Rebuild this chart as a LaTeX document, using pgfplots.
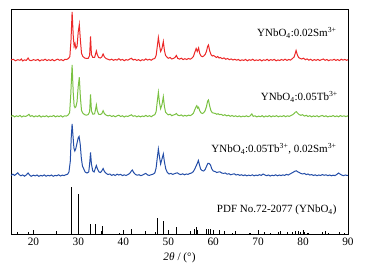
\documentclass[border=0pt]{standalone}
\usepackage{fontspec}
\setmainfont{Liberation Serif}
\usepackage{pgfplots}
\pgfplotsset{compat=1.18}
\definecolor{cred}{RGB}{236,40,40}
\definecolor{cgreen}{RGB}{122,193,66}
\definecolor{cblue}{RGB}{36,78,168}
\begin{document}
\fontsize{11}{13}\selectfont
\begin{tikzpicture}[x=1pt,y=1pt]
\useasboundingbox (0,0) rectangle (365,272);
\begin{axis}[at={(11pt,38pt)}, anchor=south west, width=337pt, height=225pt, scale only axis,
  xmin=15, xmax=90, ymin=0, ymax=225,
  xtick={20,30,...,90}, minor xtick={15,25,...,85}, ytick=\empty,
  tick align=inside, xtick pos=bottom,
  major tick length=4pt, minor tick length=3pt,
  axis line style={line width=0.8pt}, tick style={black, line width=0.6pt},
  /pgf/number format/assume math mode=true,
  tick label style={font=\fontsize{11.3}{13}\selectfont},
  xlabel={\textit{2θ} / (°)},
  xlabel style={at={(axis description cs:0.5,0)}, anchor=center, yshift=-24pt, font=\fontsize{11.3}{13}\selectfont},
  clip=false]
% reference pattern
\addplot[black, ycomb, line width=1.1pt] coordinates {
(16.5,2) (18.8,2) (28.4,47) (30.0,40) (32.7,10) (33.9,10) (35.4,7.5) (39.1,1) (41.8,4.5) (44.9,2) (47.2,1.5) (47.7,16) (48.9,13) (51.9,7) (55.9,5) (56.3,7) (56.6,4) (58.6,5) (59.0,5) (59.3,5) (61.4,3.5) (62.6,2.5) (64.3,1) (68.2,1) (71.4,1.5) (72.8,1) (74.6,1.5) (76.5,1.5) (77.6,2) (78.4,2.5) (78.9,2.5) (79.4,2) (80.3,1.5) (81.1,1) (84.4,2) (85.7,1) (88.2,2) (89.2,1)
};
% Tb + Sm (blue)
\addplot[cblue, line width=1pt] table[y expr=\thisrow{y}+58] {
x y
15 0.5
15.4 1.8
15.8 0.6
16.2 2.0
16.5 3.2
16.8 1.4
17.2 0.2
17.6 1.1
18.0 -0.2
18.4 1.0
18.8 3.0
19.1 1.2
19.5 -0.3
20.0 0.8
20.4 0.1
20.8 1.0
21.2 -0.4
21.6 0.6
22.0 0.0
22.4 1.1
22.8 -0.2
23.2 0.7
23.6 0.1
24.0 1.0
24.4 -0.3
24.8 0.6
25.2 0.2
25.6 1.2
26.0 0.0
26.4 0.9
26.8 0.4
27.2 1.2
27.6 1.8
27.9 4
28.2 15
28.4 38
28.6 52
28.8 40
29.0 28
29.2 25
29.4 27
29.7 33
29.95 38
30.15 39.5
30.4 32
30.65 18
30.9 10
31.2 7
31.5 4
31.9 3
32.3 4
32.5 12
32.7 23.5
32.9 12
33.2 5
33.5 4
33.8 8
34.0 10.5
34.25 7
34.6 4
34.9 3.5
35.2 5
35.5 7.5
35.8 4.5
36.2 2.5
36.6 1.5
37.0 2.0
37.4 0.6
37.8 1.5
38.2 0.5
38.6 1.8
39.0 1.0
39.4 1.6
39.8 0.4
40.2 1.2
40.6 0.5
41.0 1.4
41.4 2.5
41.8 5
42.0 6
42.3 3.5
42.7 1.5
43.1 0.8
43.5 1.3
43.9 0.3
44.3 1.0
44.7 2.0
45.0 2.6
45.4 1.0
45.8 0.6
46.2 1.3
46.6 1.8
47.0 3
47.3 8
47.55 18
47.8 27
48.05 19
48.3 12
48.6 17
48.9 22
49.15 14
49.45 7
49.8 3.5
50.2 2.0
50.6 2.6
51.0 1.6
51.5 2.5
52.0 3.2
52.4 2.0
52.8 1.4
53.2 2.2
53.6 1.2
54.0 2.0
54.4 1.6
54.8 2.5
55.2 3.0
55.6 4.5
56.0 8
56.3 11
56.5 13
56.7 15.5
56.95 11
57.2 7
57.5 5.5
57.9 5
58.2 6.5
58.5 9.5
58.8 12.5
59.1 12.5
59.4 11
59.7 7
60.0 5
60.4 4.5
60.8 3.5
61.2 4.0
61.5 4.2
61.9 3.0
62.3 2.6
62.7 3.0
63.1 1.8
63.5 2.3
63.9 1.2
64.3 1.8
64.7 2.2
65.1 1.0
65.5 1.6
65.9 0.6
66.3 1.3
66.7 0.4
67.1 1.1
67.5 0.2
67.9 0.9
68.3 0.3
68.7 1.2
69.1 0.2
69.5 0.9
69.9 0.4
70.3 1.3
70.7 0.6
71.1 2.0
71.5 1.0
71.9 0.3
72.3 1.0
72.7 0.0
73.1 0.8
73.5 0.3
73.9 1.2
74.3 0.2
74.7 1.0
75.1 0.4
75.5 1.1
75.9 0.6
76.3 1.6
76.7 1.0
77.1 2.0
77.5 3.0
77.9 4.0
78.2 4.8
78.5 5.2
78.8 4.2
79.1 3.6
79.5 2.6
79.9 2.0
80.3 2.6
80.7 1.4
81.1 2.0
81.5 0.9
81.9 1.4
82.3 0.5
82.7 1.2
83.1 0.3
83.5 1.0
83.9 0.5
84.3 1.4
84.7 0.7
85.1 1.2
85.5 0.3
85.9 1.0
86.3 0.2
86.7 0.8
87.1 0.4
87.5 1.5
87.9 3.0
88.2 2.0
88.6 0.9
89.0 0.3
89.4 1.0
89.8 0.5
90 0.7
};
% Tb (green)
\addplot[cgreen, line width=1pt] table[y expr=\thisrow{y}+117.3] {
x y
15 0.4
15.4 1.2
15.8 -0.2
16.2 0.9
16.6 0.1
17.0 1.3
17.4 -0.3
17.8 0.8
18.2 0.2
18.6 1.0
19.0 2.4
19.3 0.3
19.7 1.1
20.1 -0.2
20.5 0.8
20.9 0.1
21.3 1.2
21.7 -0.4
22.1 0.7
22.5 0.0
22.9 1.0
23.3 -0.3
23.7 0.6
24.1 0.2
24.5 1.2
24.9 -0.2
25.3 0.8
25.7 0.1
26.1 1.0
26.5 -0.3
26.9 0.9
27.3 0.6
27.7 1.6
28.05 4
28.3 22
28.6 51.7
28.85 24
29.05 11
29.25 9
29.45 10
29.7 15
29.95 30
30.2 39.4
30.45 19
30.7 6
31.0 3.5
31.4 2.0
31.8 1.5
32.2 2.2
32.5 5
32.7 22.4
32.9 6
33.2 2.5
33.6 2.8
33.85 8
34.0 11.7
34.2 6
34.5 2.5
34.9 2.2
35.2 3
35.5 6
35.8 3
36.2 1.5
36.6 0.8
37.0 1.4
37.4 0.2
37.8 1.0
38.2 -0.1
38.6 0.9
39.0 1.5
39.4 0.2
39.8 0.9
40.2 -0.3
40.6 0.7
41.0 0.2
41.4 1.1
41.8 1.9
42.2 0.4
42.6 1.0
43.0 -0.1
43.4 0.8
43.8 -0.2
44.2 0.7
44.6 0.1
45.0 1.3
45.4 0.2
45.8 1.0
46.2 0.0
46.6 1.2
47.0 2
47.3 5
47.55 15
47.8 24.4
48.05 14
48.3 8
48.6 12
48.9 20
49.15 10
49.4 4.5
49.7 3
50.0 1.8
50.4 2.5
50.8 1.0
51.2 1.8
51.5 2.2
51.8 3.2
52.1 1.6
52.5 1.0
52.9 1.8
53.3 0.5
53.7 1.4
54.1 0.6
54.5 1.6
54.9 1.0
55.3 2.2
55.6 3.5
55.9 7
56.2 10
56.35 11
56.55 8.5
56.75 9.5
57.0 6
57.3 3.8
57.6 3.2
57.9 4
58.2 6
58.5 10
58.75 15.5
58.95 16.7
59.2 11
59.5 6
59.8 4
60.1 3.6
60.5 3.2
60.8 2.4
61.1 3
61.4 2.0
61.8 2.4
62.2 1.2
62.6 2.0
63.0 0.8
63.4 1.5
63.8 0.4
64.2 1.2
64.6 0.2
65.0 0.9
65.4 0.0
65.8 0.8
66.2 -0.2
66.6 0.6
67.0 0.1
67.4 0.9
67.8 0.0
68.2 0.7
68.6 2.8
68.9 0.3
69.3 0.9
69.7 -0.2
70.1 0.6
70.5 0.0
70.9 1.0
71.3 -0.3
71.7 0.7
72.1 0.1
72.5 1.1
72.9 -0.2
73.3 0.8
73.7 0.2
74.1 1.0
74.5 -0.1
74.9 0.7
75.3 0.1
75.7 1.1
76.1 0.0
76.5 0.9
76.9 0.3
77.3 1.2
77.7 2.0
78.0 3.2
78.3 4.6
78.5 5
78.8 3.5
79.1 2.2
79.5 1.4
79.9 2.0
80.3 0.6
80.7 1.4
81.1 0.2
81.5 1.0
81.9 -0.1
82.3 0.8
82.7 0.1
83.1 1.0
83.5 -0.2
83.9 0.7
84.3 1.2
84.7 0.1
85.1 0.9
85.5 -0.2
85.9 0.6
86.3 0.2
86.7 1.1
87.1 0.0
87.5 0.8
87.9 -0.1
88.3 1.1
88.7 0.3
89.1 0.9
89.5 0.1
89.9 0.8
90 0.5
};
% Sm (red)
\addplot[cred, line width=1pt] table[y expr=\thisrow{y}+173.5] {
x y
15 0.5
15.5 1.2
16 -0.3
16.5 0.8
17 0.2
17.3 1.5
17.6 -0.4
18 0.6
18.4 0.1
18.8 2.5
19.1 0.3
19.5 -0.2
20 0.9
20.5 0.1
21 1.1
21.4 -0.5
21.8 0.7
22.2 0.2
22.6 1.3
23 -0.1
23.4 0.8
23.8 0.0
24.2 1.0
24.6 -0.3
25 0.6
25.4 1.4
25.8 0.2
26.2 0.9
26.6 -0.2
27 1.2
27.4 1.0
27.8 2.0
28.1 4
28.35 20
28.6 48.5
28.85 25
29.05 14
29.25 17
29.45 12
29.7 14
29.95 28
30.2 36
30.45 20
30.7 7
31.0 4
31.4 2.5
31.8 2
32.2 2.2
32.5 5
32.7 24
32.9 6
33.2 3
33.6 3
33.85 7
34.0 9.5
34.2 6
34.5 3
34.9 2.5
35.2 3.5
35.5 6.5
35.8 3.5
36.2 1.8
36.6 1.2
37 0.5
37.4 1.3
37.8 0.2
38.2 1.0
38.6 0.4
39 1.8
39.4 0.3
39.8 1.1
40.2 -0.2
40.6 0.9
41 0.3
41.4 1.4
41.8 2.2
42.2 0.5
42.6 1.2
43 0.1
43.4 0.9
43.8 -0.3
44.2 0.8
44.6 0.2
45 1.6
45.4 0.4
45.8 1.2
46.2 0.3
46.6 1.5
47 2
47.3 5
47.55 14
47.8 23
48.05 15
48.3 9
48.6 12
48.9 19
49.15 10
49.4 5
49.7 3.5
50.0 2.2
50.4 3
50.8 1.5
51.2 2.2
51.5 3
51.8 5
52.1 2.2
52.5 1.4
52.9 2.3
53.3 0.9
53.7 1.8
54.1 1.0
54.5 2.0
54.9 1.3
55.3 2.5
55.6 4
55.9 8
56.2 12
56.45 9
56.75 12.5
57.0 7
57.3 4.5
57.6 3.8
57.9 4.5
58.2 6
58.5 9
58.75 14
58.95 15.5
59.2 10
59.5 6
59.8 4.5
60.1 5
60.4 4
60.7 3
61.0 4
61.3 2.5
61.6 3
62 1.8
62.4 2.6
62.8 1.2
63.2 2
63.6 0.8
64 1.6
64.4 0.5
64.8 1.2
65.2 0.3
65.6 1.0
66 -0.2
66.4 0.7
66.8 0.1
67.2 1.1
67.6 -0.3
68 0.8
68.4 0.2
68.8 1.2
69.2 -0.1
69.6 0.6
70 0.0
70.4 1.0
70.8 -0.4
71.2 0.7
71.6 0.1
72 1.2
72.4 -0.2
72.8 0.9
73.2 0.2
73.6 1.1
74 -0.3
74.4 0.6
74.8 0.0
75.2 1.0
75.6 0.2
76 1.3
76.4 0.1
76.8 1.0
77.2 0.4
77.6 1.8
78.0 3.5
78.25 7
78.45 10
78.7 6
79.0 3
79.3 2.2
79.7 1.5
80.1 2.3
80.5 0.8
80.9 1.6
81.3 0.3
81.7 1.2
82.1 -0.1
82.5 0.9
82.9 0.2
83.3 1.1
83.7 0.0
84.1 0.8
84.5 1.5
84.9 0.2
85.3 1.0
85.7 -0.2
86.1 0.7
86.5 0.3
86.9 1.2
87.3 0.1
87.7 0.9
88.1 -0.1
88.5 1.3
88.9 0.4
89.3 1.0
89.7 0.2
90 0.8
};
\node[anchor=east] at (axis cs:88.3,201) {YNbO\textsubscript{4}:0.02Sm\textsuperscript{3+}};
\node[anchor=east] at (axis cs:88.6,137) {YNbO\textsubscript{4}:0.05Tb\textsuperscript{3+}};
\node[anchor=east] at (axis cs:88.3,85) {YNbO\textsubscript{4}:0.05Tb\textsuperscript{3+}, 0.02Sm\textsuperscript{3+}};
\node[anchor=east] at (axis cs:88.3,24) {PDF No.72-2077 (YNbO\textsubscript{4})};
\end{axis}
\end{tikzpicture}
\end{document}
